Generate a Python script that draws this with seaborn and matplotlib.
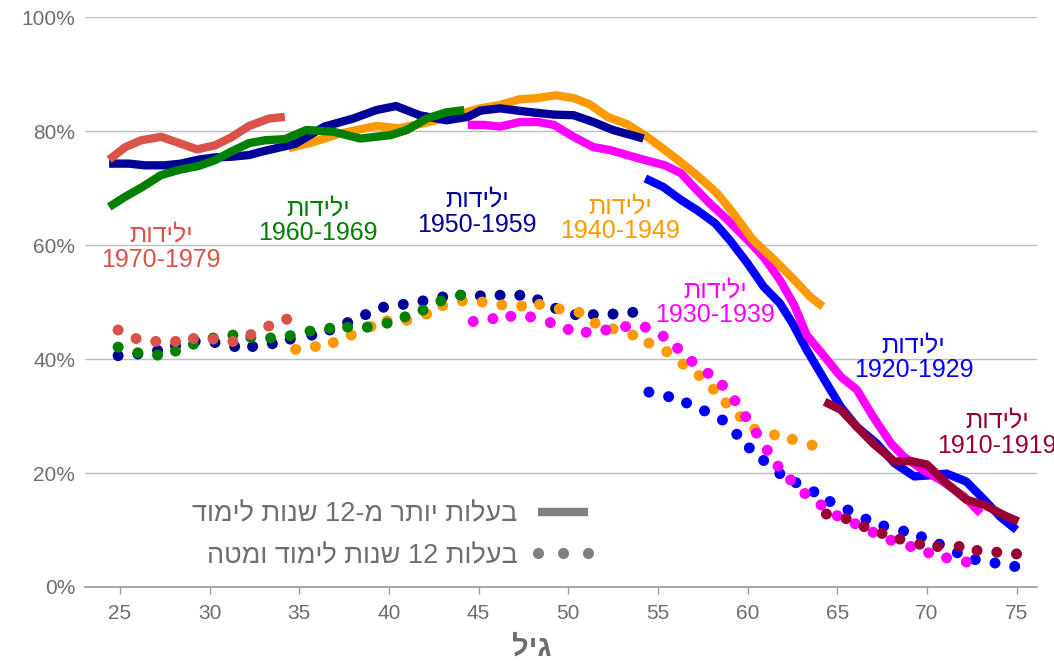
import re
import pandas as pd
import matplotlib
matplotlib.use("Agg")
import matplotlib.pyplot as plt
import matplotlib.ticker as mticker
from matplotlib.lines import Line2D
import seaborn as sns

# --- data (age, % of women employed) ---
# solid lines: more than 12 years of schooling
LINE_AGE_1970 = [24.4, 25.3, 26.2, 27.3, 28.4, 29.3, 30.3, 31.2, 32.2, 33.3, 34.2]
LINE_PCT_1970 = [75.0, 77.2, 78.4, 79.0, 77.8, 76.8, 77.5, 78.9, 80.9, 82.2, 82.5]

LINE_AGE_1960 = [24.4, 25.3, 26.2, 27.3, 28.3, 29.4, 30.3, 31.2, 32.2, 33.1, 34.2,
                 35.4, 36.9, 38.4, 40.1, 41.0, 42.1, 43.2, 44.2]
LINE_PCT_1960 = [66.7, 68.5, 70.1, 72.3, 73.2, 73.9, 74.9, 76.4, 77.9, 78.4, 78.6,
                 80.2, 79.9, 78.7, 79.3, 80.2, 82.2, 83.3, 83.7]

LINE_AGE_1950 = [24.4, 25.5, 26.4, 27.5, 28.4, 29.4, 30.3, 31.2, 32.2, 32.9, 34.0,
                 34.8, 36.4, 38.0, 39.3, 40.4, 41.7, 43.2, 44.4, 45.1, 46.2, 47.7,
                 49.2, 50.3, 51.4, 52.5, 54.2]
LINE_PCT_1950 = [74.3, 74.3, 74.0, 74.0, 74.3, 75.0, 75.4, 75.5, 75.8, 76.4, 77.2,
                 77.8, 80.8, 82.2, 83.7, 84.4, 82.8, 81.9, 82.5, 83.6, 84.0, 83.4,
                 82.9, 82.8, 81.6, 80.2, 78.7]

LINE_AGE_1940 = [34.4, 35.8, 37.3, 39.3, 40.6, 42.1, 43.6, 45.1, 46.2, 47.3, 48.3,
                 49.3, 50.3, 51.2, 52.2, 53.3, 54.4, 55.3, 56.3, 57.2, 58.3, 59.2,
                 60.3, 61.5, 62.6, 63.5, 64.2]
LINE_PCT_1940 = [77.0, 78.1, 79.6, 80.9, 80.5, 81.5, 82.7, 84.0, 84.6, 85.6, 85.8,
                 86.3, 85.8, 84.7, 82.5, 81.2, 79.0, 76.9, 74.5, 72.2, 69.1, 65.6,
                 60.9, 57.4, 53.9, 50.9, 49.2]

LINE_AGE_1930 = [44.4, 45.3, 46.2, 47.3, 48.3, 49.2, 50.3, 51.4, 52.3, 53.3, 54.3,
                 55.4, 56.3, 57.0, 57.9, 58.9, 60.0, 60.9, 61.8, 62.6, 63.3, 64.3,
                 65.2, 66.1, 67.0, 68.0, 68.7, 69.8, 70.9, 72.1, 73.0]
LINE_PCT_1930 = [81.1, 81.1, 80.8, 81.6, 81.6, 81.1, 79.0, 77.2, 76.7, 75.8, 74.9,
                 74.0, 72.6, 70.2, 67.3, 64.4, 60.9, 57.9, 53.9, 49.5, 44.2, 40.4,
                 36.9, 34.6, 29.9, 25.2, 22.9, 20.5, 18.5, 15.8, 12.9]

LINE_AGE_1920 = [54.3, 55.3, 56.3, 57.2, 58.2, 59.0, 60.0, 60.9, 61.8, 62.5, 63.3,
                 64.3, 65.2, 66.1, 67.2, 68.2, 69.3, 70.2, 71.1, 72.2, 73.2, 74.1, 75.0]
LINE_PCT_1920 = [71.7, 70.2, 67.9, 66.1, 63.8, 60.9, 56.8, 52.7, 49.8, 46.3, 41.6,
                 36.3, 31.6, 28.1, 25.2, 21.7, 19.4, 19.6, 19.9, 18.5, 15.3, 12.3, 10.0]

LINE_AGE_1910 = [64.3, 65.2, 66.1, 67.0, 68.2, 69.1, 70.0, 71.1, 72.2, 73.2, 74.3, 75.1]
LINE_PCT_1910 = [32.5, 31.1, 28.1, 25.2, 22.0, 22.1, 21.5, 18.2, 15.3, 14.4, 12.6, 11.5]

# dots: 12 years of schooling or less
DOT_AGE_1970 = [24.9, 25.9, 27.0, 28.1, 29.1, 30.2, 31.3, 32.3, 33.3, 34.3]
DOT_PCT_1970 = [45.1, 43.6, 43.1, 43.1, 43.6, 43.5, 43.1, 44.3, 45.8, 47.0]

DOT_AGE_1960 = [24.9, 26.0, 27.1, 28.1, 29.1, 30.2, 31.3, 32.3, 33.4, 34.5, 35.6,
                36.7, 37.7, 38.8, 39.9, 40.9, 41.9, 42.9, 44.0]
DOT_PCT_1960 = [42.1, 41.1, 40.7, 41.4, 42.6, 43.7, 44.2, 43.8, 43.7, 44.1, 44.9,
                45.4, 45.6, 45.6, 46.3, 47.4, 48.6, 50.2, 51.2]

DOT_AGE_1950 = [24.9, 26.0, 27.1, 28.1, 29.2, 30.3, 31.4, 32.4, 33.5, 34.5, 35.7,
                36.7, 37.7, 38.7, 39.7, 40.8, 41.9, 43.0, 44.0, 45.1, 46.2, 47.3,
                48.3, 49.3, 50.4, 51.4, 52.5, 53.6]
DOT_PCT_1950 = [40.6, 40.9, 41.5, 42.3, 43.1, 42.9, 42.2, 42.2, 42.7, 43.5, 44.2,
                45.1, 46.4, 47.8, 49.1, 49.6, 50.2, 50.9, 51.2, 51.1, 51.2, 51.2,
                50.4, 48.9, 47.8, 47.8, 47.9, 48.2]

DOT_AGE_1940 = [34.8, 35.9, 36.9, 37.9, 39.0, 39.9, 41.0, 42.1, 43.0, 44.1, 45.2,
                46.3, 47.4, 48.4, 49.5, 50.6, 51.5, 52.5, 53.6, 54.5, 55.5, 56.4,
                57.3, 58.1, 58.8, 59.6, 60.4, 61.5, 62.5, 63.6]
DOT_PCT_1940 = [41.7, 42.2, 42.9, 44.2, 45.7, 46.7, 46.8, 47.9, 49.4, 50.2, 50.0,
                49.5, 49.3, 49.6, 48.8, 48.2, 46.3, 45.3, 44.2, 42.8, 41.3, 39.1,
                37.1, 34.7, 32.3, 29.9, 27.7, 26.7, 25.9, 24.9]

DOT_AGE_1930 = [44.7, 45.8, 46.8, 47.9, 49.0, 50.0, 51.0, 52.1, 53.2, 54.3, 55.3,
                56.1, 56.9, 57.8, 58.6, 59.3, 59.9, 60.5, 61.1, 61.7, 62.4, 63.2,
                64.1, 65.0, 66.0, 67.0, 68.0, 69.1, 70.1, 71.1, 72.2]
DOT_PCT_1930 = [46.6, 47.1, 47.5, 47.4, 46.4, 45.2, 44.7, 45.1, 45.7, 45.6, 44.0,
                41.9, 39.6, 37.5, 35.4, 32.7, 29.9, 27.0, 24.0, 21.2, 18.8, 16.4,
                14.4, 12.5, 11.1, 9.6, 8.2, 7.1, 6.0, 5.1, 4.4]

DOT_AGE_1920 = [54.5, 55.6, 56.6, 57.6, 58.6, 59.4, 60.1, 60.9, 61.8, 62.7, 63.7,
                64.6, 65.6, 66.6, 67.6, 68.7, 69.7, 70.7, 71.7, 72.7, 73.8, 74.9]
DOT_PCT_1920 = [34.2, 33.4, 32.3, 30.9, 29.3, 26.8, 24.4, 22.2, 19.9, 18.3, 16.7,
                15.0, 13.5, 11.9, 10.7, 9.8, 8.8, 7.5, 6.0, 4.8, 4.2, 3.6]

DOT_AGE_1910 = [64.4, 65.5, 66.5, 67.5, 68.5, 69.6, 70.6, 71.8, 72.8, 73.9, 75.0]
DOT_PCT_1910 = [12.8, 12.0, 10.6, 9.4, 8.4, 7.5, 7.1, 7.1, 6.4, 6.1, 5.8]

COHORTS = ["1910-1919", "1920-1929", "1930-1939", "1940-1949",
           "1950-1959", "1960-1969", "1970-1979"]
COLORS = {
    "1970-1979": "#D9534A",
    "1960-1969": "#008000",
    "1950-1959": "#000099",
    "1940-1949": "#FF9900",
    "1930-1939": "#FF00FF",
    "1920-1929": "#0000FF",
    "1910-1919": "#990033",
}
# label anchor (age, %) for each cohort caption
LABEL_POS = {
    "1970-1979": (27.3, 59.6),
    "1960-1969": (36.05, 64.3),
    "1950-1959": (44.9, 65.8),
    "1940-1949": (52.9, 64.6),
    "1930-1939": (58.2, 49.9),
    "1920-1929": (69.25, 40.2),
    "1910-1919": (73.9, 27.0),
}

LINES = {
    "1970-1979": (LINE_AGE_1970, LINE_PCT_1970),
    "1960-1969": (LINE_AGE_1960, LINE_PCT_1960),
    "1950-1959": (LINE_AGE_1950, LINE_PCT_1950),
    "1940-1949": (LINE_AGE_1940, LINE_PCT_1940),
    "1930-1939": (LINE_AGE_1930, LINE_PCT_1930),
    "1920-1929": (LINE_AGE_1920, LINE_PCT_1920),
    "1910-1919": (LINE_AGE_1910, LINE_PCT_1910),
}
DOTS = {
    "1970-1979": (DOT_AGE_1970, DOT_PCT_1970),
    "1960-1969": (DOT_AGE_1960, DOT_PCT_1960),
    "1950-1959": (DOT_AGE_1950, DOT_PCT_1950),
    "1940-1949": (DOT_AGE_1940, DOT_PCT_1940),
    "1930-1939": (DOT_AGE_1930, DOT_PCT_1930),
    "1920-1929": (DOT_AGE_1920, DOT_PCT_1920),
    "1910-1919": (DOT_AGE_1910, DOT_PCT_1910),
}

LEGEND_LINE = "בעלות יותר מ-12 שנות לימוד"
LEGEND_DOTS = "בעלות 12 שנות לימוד ומטה"
BORN = "ילידות"
X_TITLE = "גיל"


def rtl(text):
    # matplotlib has no bidi support: reverse to visual order, keep numbers LTR
    return re.sub(r"\d+", lambda m: m.group(0)[::-1], text[::-1])


def to_frame(series, order):
    parts = []
    for name in order:
        ages, pcts = series[name]
        parts.append(pd.DataFrame({"age": ages, "pct": pcts, "cohort": name}))
    return pd.concat(parts, ignore_index=True)


line_order = ["1920-1929", "1930-1939", "1940-1949", "1950-1959",
              "1960-1969", "1970-1979", "1910-1919"]
dot_order = ["1920-1929", "1950-1959", "1940-1949", "1930-1939",
             "1960-1969", "1970-1979", "1910-1919"]
df_lines = to_frame(LINES, line_order)
df_dots = to_frame(DOTS, dot_order)

sns.set_theme(style="white")
plt.rcParams["font.family"] = ["Liberation Sans", "DejaVu Sans"]
plt.rcParams["lines.solid_capstyle"] = "butt"
plt.rcParams["lines.solid_joinstyle"] = "round"

GRAY_TEXT = "#6E6E6E"

fig, ax = plt.subplots(figsize=(10.54, 6.61), dpi=100)
fig.subplots_adjust(left=0.0806, right=0.984, bottom=0.112, top=0.974)

sns.scatterplot(data=df_dots, x="age", y="pct", hue="cohort", palette=COLORS,
                s=62, linewidth=0, legend=False, ax=ax, zorder=3)
sns.lineplot(data=df_lines, x="age", y="pct", hue="cohort", hue_order=line_order,
             palette=COLORS, estimator=None, sort=False, linewidth=6,
             legend=False, ax=ax, zorder=4)

for name in COHORTS:
    x, y = LABEL_POS[name]
    ax.text(x, y, rtl(BORN) + "\n" + name, color=COLORS[name], fontsize=18,
            ha="center", va="center", linespacing=1.05, clip_on=False, zorder=5)

ax.set_xlim(23.05, 76.15)
ax.set_ylim(0, 100)
ax.set_xticks(range(25, 80, 5))
ax.set_yticks(range(0, 101, 20))
ax.yaxis.set_major_formatter(mticker.PercentFormatter(100, decimals=0))

ax.grid(True, axis="y", color="#BDBDBD", linewidth=1)
ax.grid(False, axis="x")
for side in ["top", "right", "left"]:
    ax.spines[side].set_visible(False)
ax.spines["bottom"].set_color("#9A9A9A")
ax.spines["bottom"].set_linewidth(1.2)
ax.tick_params(axis="x", direction="out", length=5, width=1, color="#9A9A9A",
               labelsize=15, labelcolor=GRAY_TEXT, pad=7, bottom=True)
ax.tick_params(axis="y", length=0, labelsize=15, labelcolor=GRAY_TEXT, pad=7)

ax.set_ylabel(None)
ax.set_xlabel(rtl(X_TITLE), fontsize=21, fontweight="bold", color=GRAY_TEXT)
ax.xaxis.set_label_coords((532 - 85) / 952, -0.082)

handles = [
    Line2D([], [], color="#808080", linewidth=6),
    Line2D([], [], color="#808080", marker="o", markersize=7, linestyle="none"),
]
ax.legend(handles, [rtl(LEGEND_LINE), rtl(LEGEND_DOTS)], loc="center right",
          bbox_to_anchor=(0.537, 0.091), frameon=False, markerfirst=False,
          numpoints=3, handlelength=2.45, handletextpad=0.45, borderpad=0,
          borderaxespad=0, labelspacing=0.58, fontsize=19.5,
          labelcolor=GRAY_TEXT)

fig.savefig("out.png", dpi=100)
